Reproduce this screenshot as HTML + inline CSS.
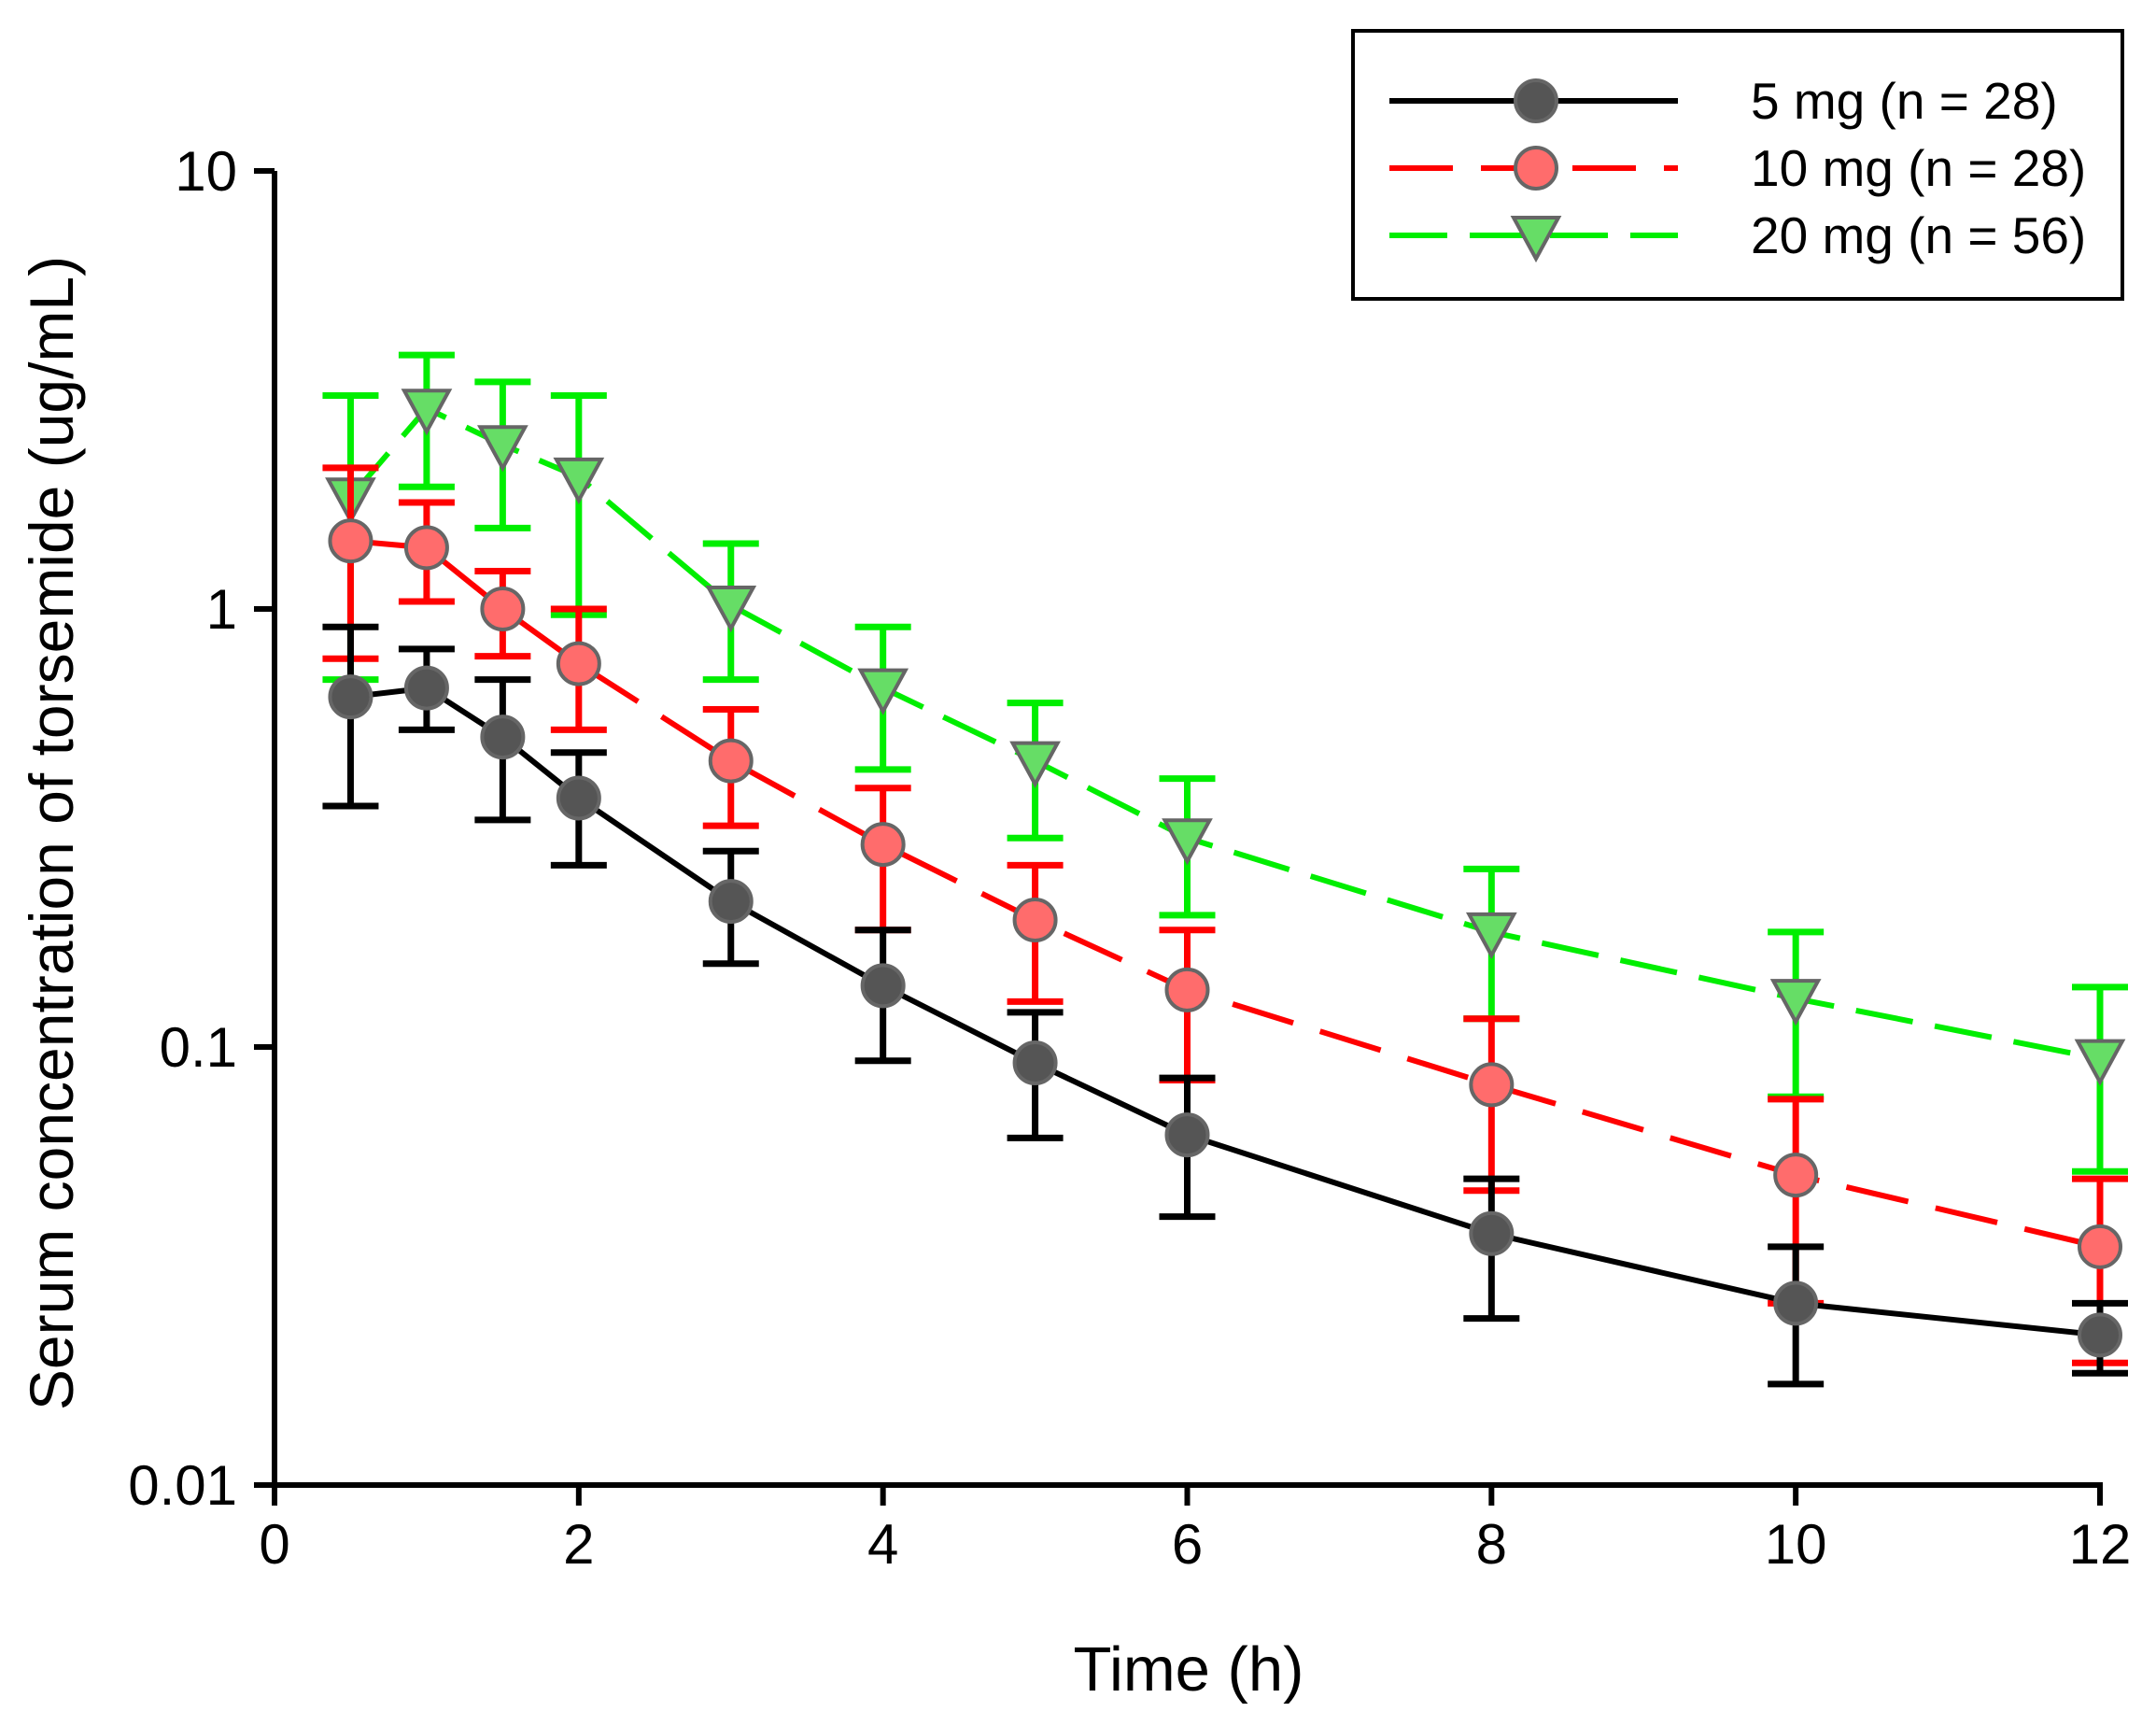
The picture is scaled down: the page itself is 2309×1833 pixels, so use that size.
<!DOCTYPE html>
<html><head><meta charset="utf-8"><style>
html,body{margin:0;padding:0;background:#fff}
svg{display:block;font-family:"Liberation Sans",Arial,sans-serif}
</style></head><body>
<svg id="chart" width="2309" height="1833" viewBox="0 0 2309 1833" xmlns="http://www.w3.org/2000/svg">
<g id="axes"></g>
<g id="plot"></g>
<text x="1273" y="1810" font-size="67" text-anchor="middle">Time (h)</text>
<text transform="translate(78,892) rotate(-90)" font-size="66" text-anchor="middle">Serum concentration of torsemide (ug/mL)</text>
<g>
<rect x="1449" y="33" width="824" height="287" fill="#fff" stroke="#000" stroke-width="4"/>
<g id="legend-items"></g>
</g>
</svg>
<script>
const times = [0.5,1,1.5,2,3,4,5,6,8,10,12];
const s5mean = [0.63,0.66,0.51,0.37,0.215,0.138,0.092,0.063,0.0375,0.026,0.022];
const s5up   = [0.91,0.81,0.69,0.47,0.28,0.185,0.12,0.085,0.05,0.035,0.026];
const s5down = [0.355,0.53,0.33,0.26,0.155,0.093,0.062,0.041,0.024,0.017,0.018];
const s10mean = [1.43,1.38,1.0,0.75,0.45,0.29,0.195,0.135,0.082,0.051,0.035];
const s10up   = [2.1,1.75,1.22,1.0,0.59,0.39,0.26,0.185,0.116,0.076,0.05];
const s10down = [0.77,1.04,0.78,0.53,0.32,0.185,0.127,0.084,0.047,0.026,0.019];
const s20mean = [1.8,2.87,2.37,2.0,1.02,0.66,0.45,0.30,0.183,0.129,0.094];
const s20up   = [3.07,3.8,3.3,3.07,1.41,0.91,0.61,0.41,0.255,0.183,0.137];
const s20down = [0.69,1.9,1.53,0.97,0.69,0.43,0.30,0.20,0.116,0.077,0.052];
const xTicks = [0,2,4,6,8,10,12];
const yTicks = [0.01,0.1,1,10];
const yTickLabels = ["0.01","0.1","1","10"];

const X0=294,X1=2249,Y0=1590,Y1=183;
function sx(t){return X0+(t-0)/(12-0)*(X1-X0);}
function sy(v){return Y0-(Math.log10(v)-(-2))/3*(Y0-Y1);}
const NS="http://www.w3.org/2000/svg";
function mk(tag,attrs,parent){const e=document.createElementNS(NS,tag);for(const k in attrs)e.setAttribute(k,attrs[k]);parent.appendChild(e);return e;}
const axes=document.getElementById('axes'),plot=document.getElementById('plot');

let a=mk('line',{x1:X0,y1:Y1,x2:X0,y2:Y0+2,stroke:'#000','stroke-width':6},axes);

a=mk('line',{x1:X0-3,y1:Y0,x2:X1+3,y2:Y0,stroke:'#000','stroke-width':6},axes);

xTicks.forEach(t=>{
  const l=mk('line',{x1:sx(t),y1:Y0,x2:sx(t),y2:Y0+22,stroke:'#000','stroke-width':6},axes);
  
  const tx=mk('text',{x:sx(t),y:Y0+84,'font-size':60,'text-anchor':'middle'},axes);tx.textContent=t;
  
});
yTicks.forEach((v,i)=>{
  const l=mk('line',{x1:X0-22,y1:sy(v),x2:X0,y2:sy(v),stroke:'#000','stroke-width':6},axes);
  
  const tx=mk('text',{x:X0-40,y:sy(v)+21,'font-size':60,'text-anchor':'end'},axes);tx.textContent=yTickLabels[i];
  
});

const series=[
 {name:'5mg',mean:s5mean,up:s5up,down:s5down,color:'#000',dash:'',fill:'#555',shape:'c'},
 {name:'10mg',mean:s10mean,up:s10up,down:s10down,color:'#ff0000',dash:'68 30',fill:'#ff6c6c',shape:'c'},
 {name:'20mg',mean:s20mean,up:s20up,down:s20down,color:'#00ee00',dash:'62 24',fill:'#66dd66',shape:'t'}
];
function marker(shape,x,y,fill,parent){
  if(shape==='c') return mk('circle',{cx:x,cy:y,r:22,fill:fill,stroke:'#666','stroke-width':4},parent);
  return mk('polygon',{points:`${x-24},${y-19} ${x+24},${y-19} ${x},${y+25}`,fill:fill,stroke:'#666','stroke-width':4},parent);
}
[2,1,0].forEach(si=>{
  const s=series[si];const g=mk('g',{},plot);
  
  times.forEach((t,i)=>{
    const x=sx(t);
    const eb=mk('path',{d:`M${x},${sy(s.up[i])}V${sy(s.down[i])}M${x-30},${sy(s.up[i])}H${x+30}M${x-30},${sy(s.down[i])}H${x+30}`,stroke:s.color,'stroke-width':7,fill:'none'},g);
    
  });
  const pl=mk('polyline',{points:times.map((t,i)=>sx(t)+','+sy(s.mean[i])).join(' '),fill:'none',stroke:s.color,'stroke-width':6,'stroke-dasharray':s.dash},g);
  
  times.forEach((t,i)=>{
    const m=marker(s.shape,sx(t),sy(s.mean[i]),s.fill,g);
    
  });
});
const labels=['5 mg (n = 28)','10 mg (n = 28)','20 mg (n = 56)'];
const lg=document.getElementById('legend-items');
series.forEach((s,i)=>{
  const y=108+i*72;
  const g=mk('g',{},lg);
  
  mk('line',{x1:1488,y1:y,x2:1797,y2:y,stroke:s.color,'stroke-width':6,'stroke-dasharray':s.dash},g);
  marker(s.shape,1645,y,s.fill,g);
  const tx=mk('text',{x:1875,y:y+19,'font-size':55},g);tx.textContent=labels[i];
});
</script>
</body></html>
